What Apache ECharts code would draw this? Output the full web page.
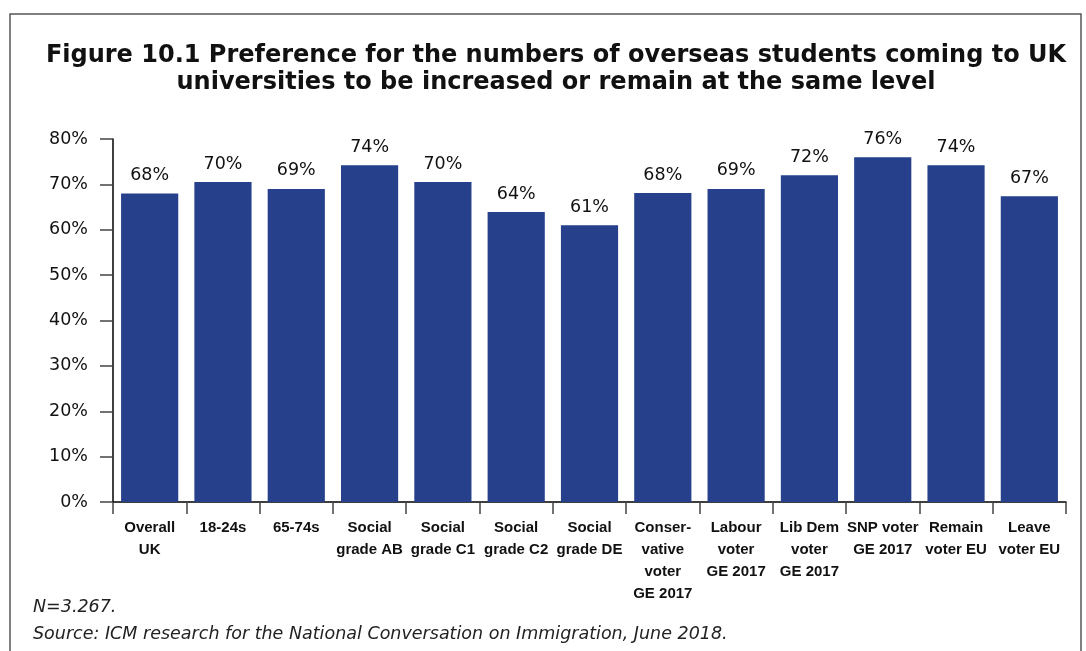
<!DOCTYPE html>
<html><head><meta charset="utf-8">
<script src="https://cdn.jsdelivr.net/npm/echarts@6/dist/echarts.min.js"></script>
<style>html,body{margin:0;padding:0;background:#fff}#c{width:1086px;height:651px}</style>
</head><body><div id="c"></div>
<script>
var categories = ["Overall\nUK","18-24s","65-74s","Social\ngrade AB","Social\ngrade C1","Social\ngrade C2","Social\ngrade DE","Conser-\nvative\nvoter\nGE 2017","Labour\nvoter\nGE 2017","Lib Dem\nvoter\nGE 2017","SNP voter\nGE 2017","Remain\nvoter EU","Leave\nvoter EU"];
var values = [68, 70.5, 69, 74.2, 70.5, 63.9, 61, 68.1, 69, 72, 76, 74.2, 67.4];
var valueLabels = ["68%","70%","69%","74%","70%","64%","61%","68%","69%","72%","76%","74%","67%"];
var titleLines = ["Figure 10.1 Preference for the numbers of overseas students coming to UK","universities to be increased or remain at the same level"];
var notes = ["N=3.267.","Source: ICM research for the National Conversation on Immigration, June 2018."];

var chart = echarts.init(document.getElementById('c'), null, {renderer:'canvas'});
chart.setOption({
  animation:false,
  title:{
    text: titleLines.join("\n"),
    left: 551, top: 37, textAlign:'center',
    textStyle:{fontFamily:'"DejaVu Sans", sans-serif', fontWeight:'bold', fontSize:24, lineHeight:27, color:'#111'}
  },
  graphic:[
    {type:'polyline', shape:{points:[[10,651],[10,14],[1081,14],[1081,651]]}, style:{stroke:'#555', lineWidth:1.5, fill:null}},
    {type:'text', left:33, top:598, style:{text:notes[0], font:'oblique 17.5px "DejaVu Sans", sans-serif', fill:'#222'}},
    {type:'text', left:33, top:625, style:{text:notes[1], font:'oblique 17.5px "DejaVu Sans", sans-serif', fill:'#222'}}
  ],
  grid:{left:113, right:20, top:139, bottom:149},
  xAxis:{
    type:'category', data:categories,
    axisLine:{lineStyle:{color:'#000', width:1.5}},
    axisTick:{show:true, length:12, lineStyle:{color:'#444', width:1.5}},
    axisLabel:{interval:0, margin:15, fontFamily:'"Liberation Sans", Arial, sans-serif', fontWeight:'bold', fontSize:15, lineHeight:22, color:'#111'}
  },
  yAxis:{
    type:'value', min:0, max:80, interval:10,
    axisLine:{show:true, lineStyle:{color:'#000', width:1.5}},
    axisTick:{show:true, length:13, lineStyle:{color:'#444', width:1.5}},
    splitLine:{show:false},
    axisLabel:{formatter:'{value}%', margin:25, fontFamily:'"DejaVu Sans", sans-serif', fontSize:17.5, color:'#111'}
  },
  series:[{
    type:'bar', data:values, barWidth:'78%',
    itemStyle:{color:'#26408B'},
    label:{show:true, position:'top', distance:9, fontFamily:'"DejaVu Sans", sans-serif', fontSize:17.5, color:'#111',
      formatter:function(p){return valueLabels[p.dataIndex];}}
  }]
});
</script></body></html>
